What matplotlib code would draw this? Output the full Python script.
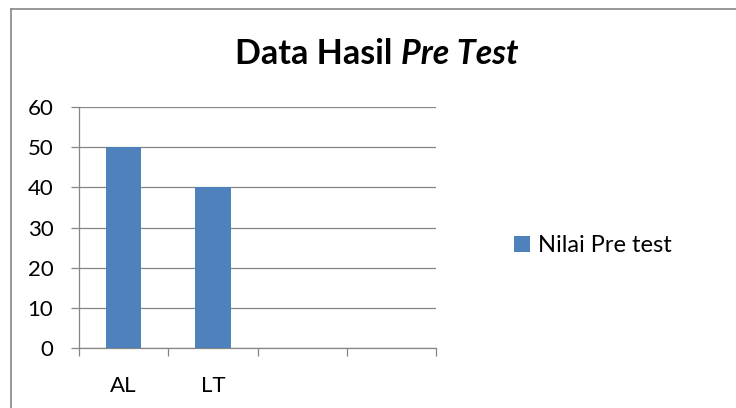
import matplotlib
matplotlib.use("Agg")
import matplotlib.pyplot as plt
from matplotlib.lines import Line2D

# data
categories = ["AL", "LT", "", ""]
nilai_pre_test = [50, 40, None, None]
series_name = "Nilai Pre test"

bar_color = "#4F81BD"
grid_color = "#868686"

plt.rcParams["font.family"] = ["Lato", "DejaVu Sans"]

fig = plt.figure(figsize=(7.36, 4.08), dpi=100)
ax = fig.add_axes([79 / 736, 1 - 348 / 408, (436 - 79) / 736, (348 - 107) / 408])

xs = [i for i, v in enumerate(nilai_pre_test) if v is not None]
vals = [v for v in nilai_pre_test if v is not None]
ax.bar(xs, vals, width=0.4, color=bar_color, label=series_name, zorder=3)

ax.set_xlim(-0.5, len(categories) - 0.5)
ax.set_ylim(0, 60)
ax.set_yticks(range(0, 61, 10))
ax.yaxis.grid(True, color=grid_color, linewidth=0.9)
ax.set_axisbelow(True)

# category labels centred, tick marks on the boundaries
ax.set_xticks(range(len(categories)))
ax.set_xticklabels(categories)
ax.set_xticks([i - 0.5 for i in range(len(categories) + 1)], minor=True)
ax.tick_params(axis="x", which="major", length=0, pad=20, labelsize=16)
ax.tick_params(axis="x", which="minor", length=5.5, width=0.9, color=grid_color)
ax.tick_params(axis="y", length=6, width=0.9, color=grid_color, labelsize=16, pad=12.5)

for s in ["top", "right"]:
    ax.spines[s].set_visible(False)
for s in ["left", "bottom"]:
    ax.spines[s].set_color(grid_color)
    ax.spines[s].set_linewidth(0.9)

# title: bold with italic part
fig.canvas.draw()
r = fig.canvas.get_renderer()
t1 = fig.text(0, 0, "Data Hasil ", fontsize=24.5, fontweight="bold")
t2 = fig.text(0, 0, "Pre Test", fontsize=24.5, fontweight="bold", fontstyle="italic")
w1 = t1.get_window_extent(r).width
w2 = t2.get_window_extent(r).width
x0 = 377 - (w1 + w2) / 2
yb = 1 - 64 / 408
t1.set_position((x0 / 736, yb))
t2.set_position(((x0 + w1) / 736, yb))

fig.legend(loc="center left", bbox_to_anchor=(493 / 736, 1 - 246 / 408), frameon=False,
           fontsize=17, handlelength=0.65, handleheight=0.65, handletextpad=0.35)

# chart frame (cropped on the right and bottom)
fig.add_artist(Line2D([10.5 / 736, 10.5 / 736], [0, 1 - 8.5 / 408], color=grid_color, linewidth=1.2))
fig.add_artist(Line2D([10.5 / 736, 1], [1 - 8.5 / 408, 1 - 8.5 / 408], color=grid_color, linewidth=1.2))

fig.savefig("out.png", dpi=100)
